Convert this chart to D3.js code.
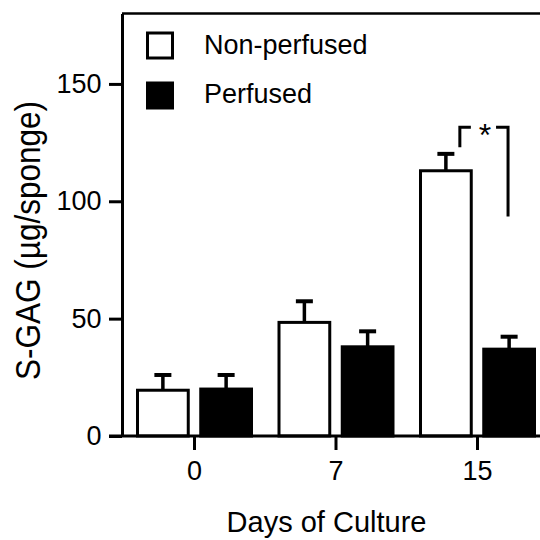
<!DOCTYPE html>
<html>
<head>
<meta charset="utf-8">
<script src="https://cdn.jsdelivr.net/npm/d3@7"></script>
<style>
	body { margin: 0; background: #fff; }
	svg { display: block; }
	text { font-family: "Liberation Sans", Arial, Helvetica, sans-serif; fill: #000; }
</style>
</head>
<body>
<svg id="chart" width="540" height="540"></svg>
<script>
// data
const days = ["0", "7", "15"];
const series = ["Non-perfused", "Perfused"];
const nonPerfused = [19.5, 48.4, 113];
const perfused = [20, 38, 37];
const nonPerfusedErr = [6.5, 9, 7.2];
const perfusedErr = [6, 6.6, 5.3];
const yTicks = [0, 50, 100, 150];
// significance bracket at day 15: top, left foot, right foot
const sigDay = "15";
const sigLevels = [131.5, 123, 93.5];

const svg = d3.select("#chart");
const plotLeft = 122, plotBottom = 436, plotTop = 13.5;

const y = d3.scaleLinear().domain([0, 180]).range([plotBottom, plotTop]);
const x0 = d3.scaleBand().domain(days).range([123.75, 548.25]).padding(0);
const x1 = d3.scaleBand().domain(series).range([12.25, 129.25]).paddingInner(0.15);

const rows = [];
days.forEach((d, i) => {
	rows.push({ day: d, s: series[0], v: nonPerfused[i], e: nonPerfusedErr[i] });
	rows.push({ day: d, s: series[1], v: perfused[i], e: perfusedErr[i] });
});
const bx = d => x0(d.day) + x1(d.s);
const bw = x1.bandwidth();

// frame top line
svg.append("line")
	.attr("x1", plotLeft).attr("x2", 540)
	.attr("y1", plotTop).attr("y2", plotTop)
	.attr("stroke", "#000").attr("stroke-width", 2.5);

// error bars (upper only)
const err = svg.append("g").attr("stroke", "#000");
err.selectAll("line.stem")
	.data(rows)
	.enter()
	.append("line")
	.attr("class", "stem")
	.attr("x1", d => bx(d) + bw / 2).attr("x2", d => bx(d) + bw / 2)
	.attr("y1", d => y(d.v)).attr("y2", d => y(d.v + d.e))
	.attr("stroke-width", 3.5);
err.selectAll("line.cap")
	.data(rows)
	.enter()
	.append("line")
	.attr("class", "cap")
	.attr("x1", d => bx(d) + bw / 2 - 8.5).attr("x2", d => bx(d) + bw / 2 + 8.5)
	.attr("y1", d => y(d.v + d.e)).attr("y2", d => y(d.v + d.e))
	.attr("stroke-width", 4);

// bars
svg.selectAll("rect.bar")
	.data(rows)
	.enter()
	.append("rect")
	.attr("class", "bar")
	.attr("x", d => bx(d) + 1.5)
	.attr("y", d => y(d.v))
	.attr("width", bw - 3)
	.attr("height", d => y(0) - y(d.v))
	.attr("fill", d => d.s === series[0] ? "#fff" : "#000")
	.attr("stroke", "#000")
	.attr("stroke-width", 3);

// y axis
const yAxis = svg.append("g")
	.attr("transform", `translate(${plotLeft},0)`)
	.call(d3.axisLeft(y).tickValues(yTicks).tickSize(13).tickSizeOuter(0).tickPadding(7.5));
yAxis.select(".domain").attr("stroke-width", 3);
yAxis.selectAll(".tick line").attr("stroke-width", 3);
yAxis.selectAll(".tick text")
	.attr("font-size", "27px")
	.attr("font-family", "Liberation Sans, Arial, sans-serif");

// x axis
const xAxis = svg.append("g")
	.attr("transform", `translate(0,${plotBottom})`)
	.call(d3.axisBottom(x0).tickSize(14).tickPadding(10.5));
xAxis.select(".domain").remove();
xAxis.selectAll(".tick line").attr("stroke-width", 3);
xAxis.selectAll(".tick text")
	.attr("font-size", "27px")
	.attr("font-family", "Liberation Sans, Arial, sans-serif");
svg.append("line")
	.attr("x1", plotLeft - 13).attr("x2", 540)
	.attr("y1", plotBottom).attr("y2", plotBottom)
	.attr("stroke", "#000").attr("stroke-width", 3);

// significance bracket
const sx = x0(sigDay);
const lx = sx + x1(series[0]) + bw * 0.76;
const rx = sx + x1(series[1]) + bw * 0.48;
const sigPath = d3.path();
sigPath.moveTo(lx, y(sigLevels[1]));
sigPath.lineTo(lx, y(sigLevels[0]));
sigPath.lineTo(lx + 11, y(sigLevels[0]));
sigPath.moveTo(rx - 12, y(sigLevels[0]));
sigPath.lineTo(rx, y(sigLevels[0]));
sigPath.lineTo(rx, y(sigLevels[2]));
svg.append("path")
	.attr("d", sigPath.toString())
	.attr("fill", "none")
	.attr("stroke", "#000")
	.attr("stroke-width", 3);
svg.append("text")
	.attr("x", (lx + rx) / 2 + 1)
	.attr("y", y(sigLevels[0]) + 19)
	.attr("text-anchor", "middle")
	.attr("font-size", "32px")
	.text("*");

// legend
const legend = svg.append("g");
series.forEach((s, i) => {
	legend.append("rect")
		.attr("x", 147.5)
		.attr("y", 33 + i * 50)
		.attr("width", 25)
		.attr("height", 25)
		.attr("fill", i === 0 ? "#fff" : "#000")
		.attr("stroke", "#000")
		.attr("stroke-width", 3);
	legend.append("text")
		.attr("x", 204)
		.attr("y", 53.5 + i * 49.5)
		.attr("font-size", "27px")
		.text(s);
});

// axis titles
svg.append("text")
	.attr("x", 326.5)
	.attr("y", 531.5)
	.attr("text-anchor", "middle")
	.attr("font-size", "29px")
	.text("Days of Culture");

svg.append("text")
	.attr("transform", "translate(39.5,240.5) rotate(-90)")
	.attr("text-anchor", "middle")
	.attr("font-size", "35px")
	.attr("textLength", 279)
	.attr("lengthAdjust", "spacingAndGlyphs")
	.text("S-GAG (µg/sponge)");
</script>
</body>
</html>
